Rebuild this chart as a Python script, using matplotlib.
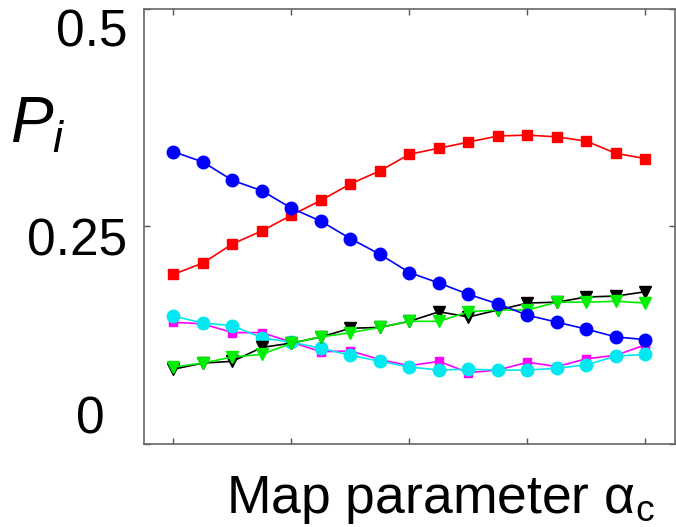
import matplotlib
matplotlib.use("Agg")
import matplotlib.pyplot as plt
from matplotlib.transforms import ScaledTranslation

plt.rcParams['font.family'] = ['Liberation Sans', 'DejaVu Sans']
plt.rcParams['mathtext.fontset'] = 'custom'
plt.rcParams['mathtext.rm'] = 'Liberation Sans'
plt.rcParams['mathtext.it'] = 'Liberation Sans:italic'

# map parameter steps
steps = list(range(17))

# probabilities P_i for each state
p_red = [0.195, 0.208, 0.230, 0.245, 0.263, 0.280, 0.299, 0.314, 0.333, 0.340,
         0.347, 0.354, 0.355, 0.353, 0.348, 0.334, 0.328]
p_blue = [0.336, 0.324, 0.303, 0.291, 0.271, 0.256, 0.236, 0.218, 0.197, 0.185,
          0.172, 0.161, 0.148, 0.140, 0.132, 0.123, 0.120]
p_magenta = [0.140, 0.138, 0.128, 0.128, 0.117, 0.106, 0.107, 0.097, 0.090, 0.095,
             0.082, 0.085, 0.094, 0.089, 0.098, 0.102, 0.114]
p_cyan = [0.147, 0.139, 0.136, 0.122, 0.117, 0.110, 0.102, 0.095, 0.0885, 0.085,
          0.086, 0.085, 0.085, 0.087, 0.091, 0.101, 0.103]
p_black = [0.086, 0.093, 0.095, 0.111, 0.116, 0.123, 0.133, 0.134, 0.141, 0.152,
           0.146, 0.154, 0.162, 0.163, 0.169, 0.170, 0.175]
p_green = [0.0885, 0.093, 0.100, 0.103, 0.116, 0.123, 0.128, 0.134, 0.141, 0.141,
           0.152, 0.154, 0.154, 0.163, 0.163, 0.164, 0.162]

y_ticks = [0, 0.25, 0.5]
y_tick_labels = ['0', '0.25', '0.5']
x_ticks = [0, 4, 8, 12, 16]

fig = plt.figure(figsize=(6.76, 5.27), dpi=100)
ax = fig.add_axes([0.213, 0.1575, 0.7855, 0.8255])

ax.plot(steps, p_red, '-s', color='#ff0000', ms=7, lw=1.2)
ax.plot(steps, p_magenta, '-s', color='#ff00ff', ms=6, lw=1.2)
ax.plot(steps, p_cyan, '-o', color='#00e8f0', ms=9, lw=1.2)
ax.plot(steps, p_black, '-v', color='black', ms=9, lw=1.2)
ax.plot(steps, p_green, '-v', color='#00ee00', ms=9, lw=1.2)
ax.plot(steps, p_blue, '-o', color='#0000ff', ms=9, lw=1.2)

ax.set_xlim(-1, 17)
ax.set_ylim(0, 0.5)
ax.set_xticks(x_ticks)
ax.set_xticklabels([])
ax.set_yticks(y_ticks)
ax.set_yticklabels(y_tick_labels, fontsize=37)
ax.tick_params(direction='in', length=4, width=1, color='#555555',
               top=True, right=True, pad=12)
for s in ax.spines.values():
    s.set_color('#666666')
    s.set_linewidth(1.2)

# nudge the y tick labels the way they sit on the axis
offsets = [(-0.23, 0.29), (0.0, -0.10), (0.0, -0.19)]
for lab, (dx, dy) in zip(ax.get_yticklabels(), offsets):
    lab.set_transform(lab.get_transform() + ScaledTranslation(dx, dy, fig.dpi_scale_trans))

fig.text(0.015, 1 - 143 / 527, r'$P_i$', fontsize=46, ha='left', va='baseline')
fig.text(440 / 676, 1 - 513 / 527, r'Map parameter α$_\mathrm{c}$', fontsize=38.5,
         ha='center', va='baseline')

fig.savefig('out.png', dpi=100)
